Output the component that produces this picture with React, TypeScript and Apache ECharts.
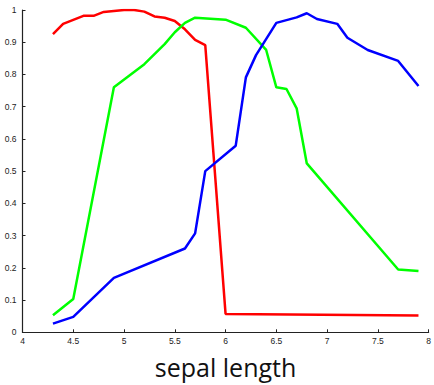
import React, { useEffect, useRef } from "react";
import * as echarts from "echarts";

const redX = [4.3, 4.4, 4.6, 4.7, 4.8, 4.9, 5.0, 5.1, 5.2, 5.3, 5.4, 5.5, 5.6, 5.7, 5.8, 6.0, 7.9];
const redY = [0.925, 0.957, 0.982, 0.982, 0.994, 0.997, 1.0, 1.0, 0.995, 0.98, 0.976, 0.966, 0.94, 0.907, 0.891, 0.057, 0.052];

const greenX = [4.3, 4.5, 4.9, 5.2, 5.4, 5.5, 5.6, 5.7, 6.0, 6.2, 6.4, 6.5, 6.6, 6.7, 6.8, 7.7, 7.9];
const greenY = [0.053, 0.103, 0.76, 0.832, 0.894, 0.931, 0.96, 0.976, 0.97, 0.945, 0.876, 0.76, 0.755, 0.695, 0.524, 0.195, 0.19];

const blueX = [4.3, 4.5, 4.9, 5.6, 5.7, 5.8, 6.1, 6.2, 6.3, 6.5, 6.7, 6.8, 6.9, 7.1, 7.2, 7.4, 7.7, 7.9];
const blueY = [0.027, 0.048, 0.169, 0.26, 0.307, 0.5, 0.579, 0.791, 0.86, 0.96, 0.977, 0.99, 0.972, 0.957, 0.914, 0.876, 0.842, 0.764];

const xTitle = "sepal length";

const pairs = (xs: number[], ys: number[]) => xs.map((x, i) => [x, ys[i]]);

export default function App() {
  const ref = useRef<HTMLDivElement>(null);
  useEffect(() => {
    if (!ref.current) return;
    const chart = echarts.init(ref.current, null, { renderer: "svg" });
    const axisCommon = {
      axisLine: { show: true, lineStyle: { color: "#222", width: 1.2 } },
      axisTick: { show: true, inside: true, length: 3, lineStyle: { color: "#222" } },
      splitLine: { show: false },
      axisLabel: { color: "#222", fontSize: 8.5, fontFamily: "Liberation Sans, Arial, sans-serif" },
    };
    const line = (name: string, color: string, data: number[][]) => ({
      name,
      type: "line",
      data,
      showSymbol: false,
      symbol: "none",
      lineStyle: { color, width: 2.5 },
      itemStyle: { color },
    });
    chart.setOption({
      animation: false,
      backgroundColor: "#fff",
      grid: { left: 22.5, right: 2.5, top: 10, bottom: 52.7 },
      xAxis: {
        type: "value",
        min: 4,
        max: 8,
        interval: 0.5,
        ...axisCommon,
        axisLabel: { ...axisCommon.axisLabel, margin: 4 },
        name: xTitle,
        nameLocation: "middle",
        nameGap: 22,
        nameTextStyle: { fontSize: 25, color: "#111", fontFamily: "Open Sans, sans-serif" },
      },
      yAxis: {
        type: "value",
        min: 0,
        max: 1,
        interval: 0.1,
        ...axisCommon,
        axisLabel: { ...axisCommon.axisLabel, margin: 6 },
      },
      series: [
        line("red", "#ff0000", pairs(redX, redY)),
        line("green", "#00ff00", pairs(greenX, greenY)),
        line("blue", "#0000ff", pairs(blueX, blueY)),
      ],
    });
    return () => chart.dispose();
  }, []);
  return <div ref={ref} style={{ position: "fixed", left: 0, top: 0, width: 434, height: 385 }} />;
}
